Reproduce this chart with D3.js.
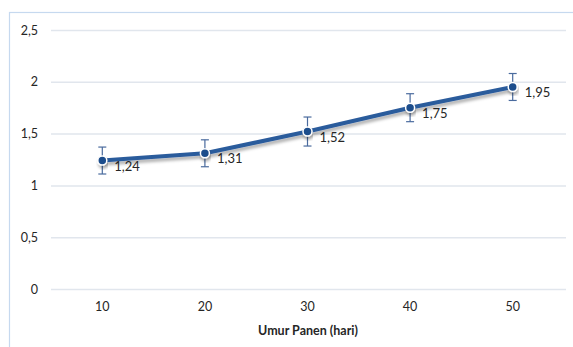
<!DOCTYPE html>
<html><head><meta charset="utf-8">
<script src="https://cdn.jsdelivr.net/npm/d3@7"></script>
<style>body{margin:0;background:#fff}svg{display:block}</style>
</head><body>
<script>
const categories = ["10","20","30","40","50"];
const values = [1.24,1.31,1.52,1.75,1.95];
const errors = [0.13,0.13,0.14,0.135,0.13];
const yTicks = [0,0.5,1,1.5,2,2.5];
const xTitle = "Umur Panen (hari)";

const W=573,H=347;
const svg=d3.select("body").append("svg").attr("width",W).attr("height",H);
const font="Lato, 'Open Sans', sans-serif";
const defs=svg.append("defs");
const f=defs.append("filter").attr("id","sh").attr("x","-10%").attr("y","-50%").attr("width","120%").attr("height","200%");
f.append("feDropShadow").attr("dx",1).attr("dy",3).attr("stdDeviation",1.5).attr("flood-color","#000").attr("flood-opacity",0.3);

svg.append("rect").attr("x",9.5).attr("y",12.5).attr("width",W).attr("height",H).attr("fill","none").attr("stroke","#c6d9ef").attr("stroke-width",1.2);

const x=d3.scaleBand().domain(categories).range([51,564]);
const y=d3.scaleLinear().domain([0,2.5]).range([289,30]);
const fmt=d=>String(d).replace(".",",");

const gy=svg.append("g").attr("transform","translate(51,0)")
 .call(d3.axisLeft(y).tickValues(yTicks).tickSize(-(566-51)).tickPadding(13).tickFormat(fmt));
gy.select(".domain").remove();
gy.selectAll(".tick line").attr("stroke","#e1e6ed").attr("stroke-width",1.5);
gy.selectAll(".tick text").attr("font-family",font).attr("font-size",12.5).attr("fill","#262626");

const gx=svg.append("g").attr("transform","translate(0,289)")
 .call(d3.axisBottom(x).tickSize(0).tickPadding(13));
gx.select(".domain").remove();
gx.selectAll(".tick text").attr("font-family",font).attr("font-size",12.5).attr("fill","#262626");

svg.append("text").attr("x",308).attr("y",335).attr("text-anchor","middle")
 .attr("font-family",font).attr("font-size",12.5).attr("font-weight","bold").attr("fill","#262626").text(xTitle);

const cx=(d,i)=>x(categories[i])+x.bandwidth()/2;
const line=d3.line().x((d,i)=>cx(d,i)).y(d=>y(d));
svg.append("path").datum(values).attr("d",line).attr("fill","none")
 .attr("stroke","#2c5b9c").attr("stroke-width",4).attr("stroke-linejoin","round").attr("filter","url(#sh)");

const eb=svg.append("g").attr("stroke","#4a6b9e").attr("stroke-width",1.2);
values.forEach((v,i)=>{
  const X=cx(v,i);
  eb.append("line").attr("x1",X).attr("x2",X).attr("y1",y(v+errors[i])).attr("y2",y(v-errors[i]));
  [v+errors[i],v-errors[i]].forEach(e=>eb.append("line").attr("x1",X-4).attr("x2",X+4).attr("y1",y(e)).attr("y2",y(e)));
});

svg.selectAll("circle.pt").data(values).enter().append("circle")
 .attr("cx",(d,i)=>cx(d,i)).attr("cy",d=>y(d)).attr("r",4.5)
 .attr("fill","#1f4e8c").attr("stroke","#fff").attr("stroke-width",1.5).attr("filter","url(#sh)");

svg.selectAll("text.lbl").data(values).enter().append("text")
 .attr("x",(d,i)=>cx(d,i)+12).attr("y",d=>y(d)+10)
 .attr("font-family",font).attr("font-size",13).attr("fill","#262626").text(fmt);
</script>
</body></html>
